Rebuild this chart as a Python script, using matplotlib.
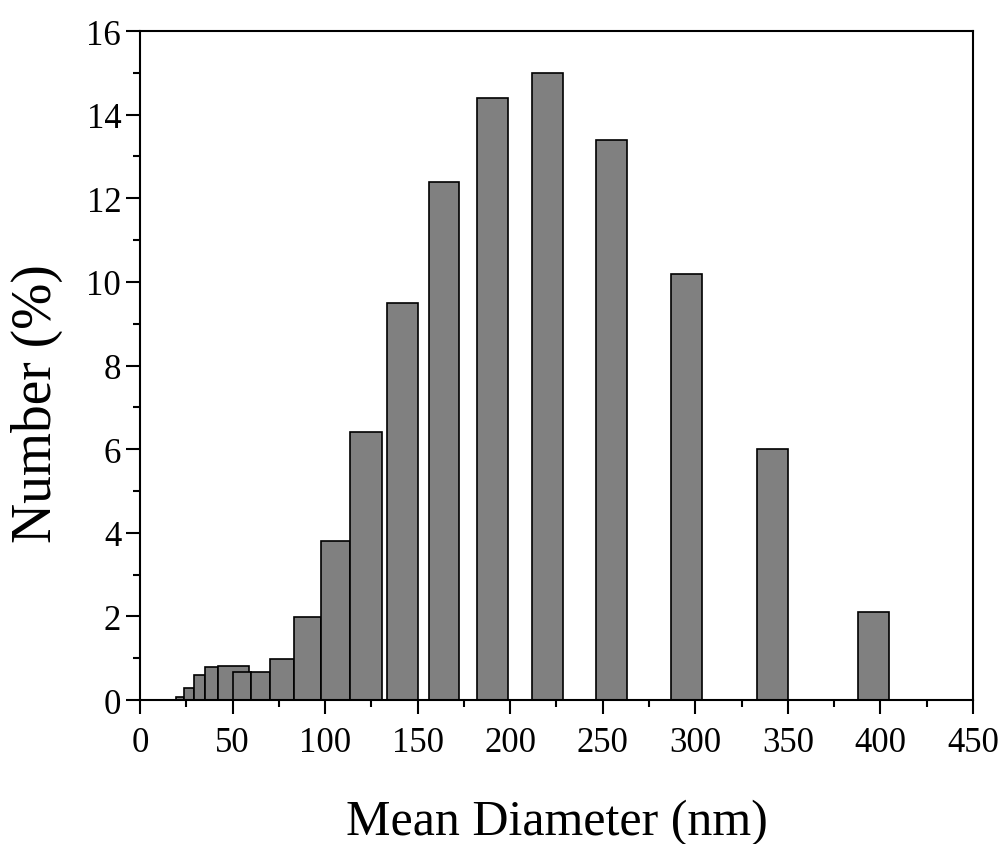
import matplotlib.pyplot as plt
from matplotlib.ticker import MultipleLocator

# bin edges (nm) and number fraction (%)
bin_left = [19.4, 23.9, 29.0, 35.0, 42.0, 50.2, 60.0, 70.2, 83.0, 97.6,
            113.6, 133.4, 156.0, 181.9, 211.8, 246.3, 286.7, 333.5, 387.9]
bin_right = [23.9, 29.0, 35.0, 42.0, 58.9, 60.0, 70.2, 83.0, 97.6, 113.6,
             130.6, 150.0, 172.5, 198.6, 228.5, 263.1, 303.6, 350.2, 404.7]
number = [0.08, 0.29, 0.59, 0.78, 0.81, 0.68, 0.66, 0.98, 1.99, 3.8,
          6.4, 9.5, 12.4, 14.4, 15.0, 13.4, 10.2, 6.0, 2.1]

plt.rcParams['font.family'] = ['Liberation Serif', 'DejaVu Serif']

fig = plt.figure(figsize=(10.07, 8.45), dpi=100)
ax = fig.add_axes([0.139, 0.1704, 0.8272, 0.7917])

widths = [r - l for l, r in zip(bin_left, bin_right)]
ax.bar(bin_left, number, width=widths, align='edge', color='#808080',
       edgecolor='black', linewidth=1.2)

ax.set_xlim(0, 450)
ax.set_ylim(0, 16)
ax.xaxis.set_major_locator(MultipleLocator(50))
ax.xaxis.set_minor_locator(MultipleLocator(25))
ax.yaxis.set_major_locator(MultipleLocator(2))
ax.yaxis.set_minor_locator(MultipleLocator(1))
ax.tick_params(which='major', direction='out', length=10, width=1.5,
               labelsize=25, top=False, right=False)
ax.tick_params(axis='x', which='major', pad=9)
ax.tick_params(which='minor', direction='out', length=5, width=1.5,
               top=False, right=False)
for s in ax.spines.values():
    s.set_linewidth(1.5)

ax.set_xlabel('Mean Diameter (nm)', fontsize=36, labelpad=28)
ax.set_ylabel('Number (%)', fontsize=40)
ax.yaxis.set_label_coords(-0.092, 0.444)

fig.savefig('out.png', dpi=100)
